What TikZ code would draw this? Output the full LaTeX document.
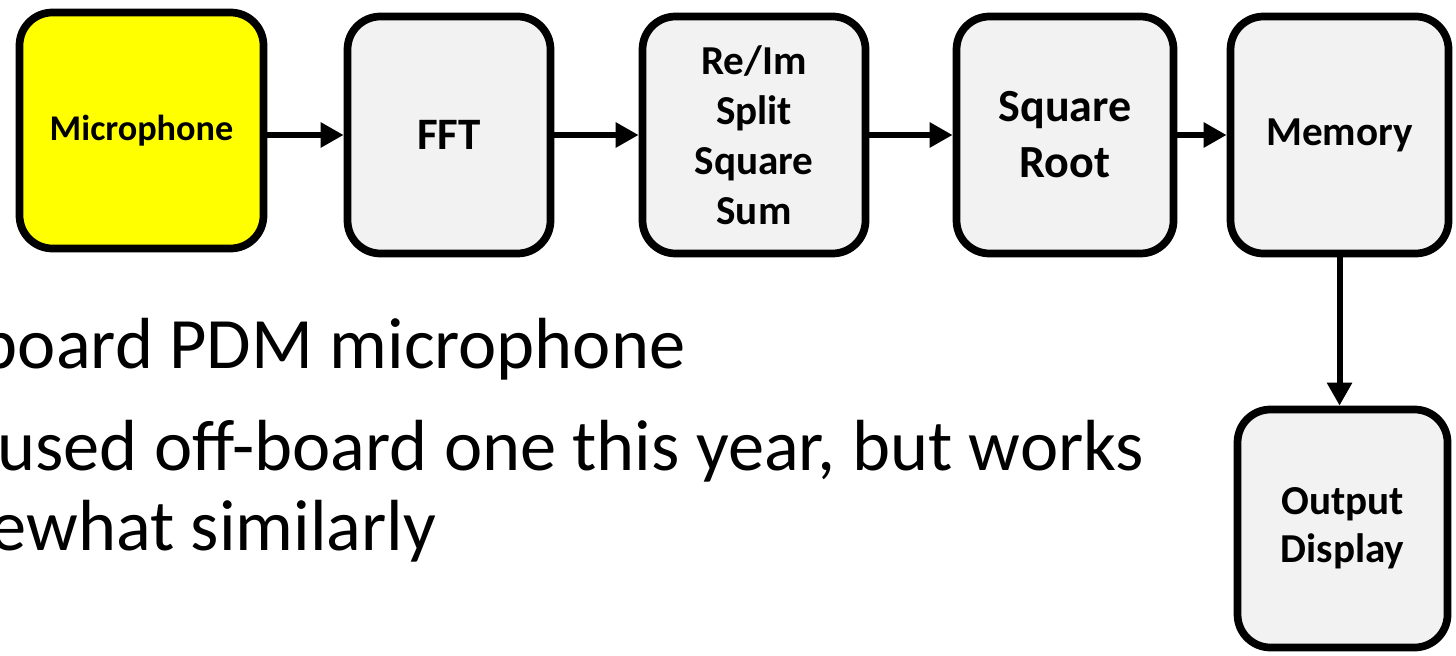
\documentclass[tikz,border=0pt]{standalone}
\usepackage{fontspec}
\setmainfont{Carlito}
\usepackage{tikz}
\usetikzlibrary{arrows.meta, positioning, calc}
\usepackage{xcolor}
\definecolor{boxgray}{HTML}{F2F2F2}
\definecolor{micyellow}{HTML}{FFFF00}

\begin{document}
\begin{tikzpicture}[>={Triangle[length=2.3mm, width=2.4mm]},
    block/.style={draw, line width=2.2pt, rounded corners=3.3mm, fill=boxgray, align=center,
      minimum height=2.37cm, inner sep=0pt},
    flow/.style={->, line width=1.7pt}]
      \useasboundingbox (0, 0) rectangle (14.56, 6.55);

      \node[block, fill=micyellow, minimum width=2.44cm, minimum height=2.36cm,
        font=\bfseries\fontsize{10.3}{12.5}\selectfont] (mic) at (1.415, 5.245) {Microphone};
      \node[block, minimum width=2.03cm, font=\bfseries\fontsize{12.8}{15.6}\selectfont]
        (fft) at (4.49, 5.20) {FFT};
      \node[block, minimum width=2.23cm, font=\bfseries\fontsize{11.7}{14.2}\selectfont]
        (reim) at (7.54, 5.20) {Re/Im\\Split\\Square\\Sum};
      \node[block, minimum width=2.17cm, font=\bfseries\fontsize{13.1}{15.9}\selectfont]
        (sqroot) at (10.65, 5.20) {Square\\Root};
      \node[block, minimum width=2.18cm, font=\bfseries\fontsize{11.7}{14.2}\selectfont]
        (mem) at (13.395, 5.20) {Memory};
      \node[block, minimum width=2.10cm, minimum height=2.38cm,
        font=\bfseries\fontsize{11.7}{13.7}\selectfont] (out) at (13.425, 1.265) {Output\\Display};

      \draw[flow] (mic.east |- fft.west) -- (fft.west);
      \draw[flow] (fft.east) -- (reim.west);
      \draw[flow] (reim.east) -- (sqroot.west);
      \draw[flow] (sqroot.east) -- (mem.west);
      \draw[flow] (mem.south) -- (mem.south |- out.north);

      \node[anchor=base east, inner sep=0pt, font=\fontsize{20.6}{23.6}\selectfont]
        (line1) at (6.86, 2.87) {board PDM microphone};
      \node[anchor=base east, inner sep=0pt, font=\fontsize{20.6}{23.6}\selectfont]
        (line2) at (11.45, 1.85) {used off-board one this year, but works};
      \node[anchor=base east, inner sep=0pt, font=\fontsize{20.6}{23.6}\selectfont]
        (line3) at (4.37, 1.05) {ewhat similarly};
    \end{tikzpicture}
\end{document}
